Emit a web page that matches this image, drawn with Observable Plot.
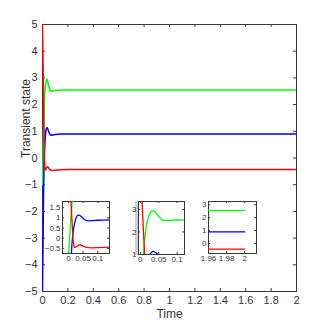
<!DOCTYPE html>
<html><head><meta charset="utf-8">
<script src="https://cdn.jsdelivr.net/npm/d3@7"></script>
<script src="https://cdn.jsdelivr.net/npm/@observablehq/plot@0.6"></script>
<style>
body{margin:0;background:#fff}
#wrap{position:relative;width:327px;height:327px;overflow:hidden;font-family:"Liberation Sans",Arial,sans-serif}
.inset{position:absolute}
#strip{position:absolute;left:135px;top:201px;width:3px;height:54px;background:#cfcfcf}
</style></head>
<body><div id="wrap"><div id="strip"></div></div>
<script>
// time samples (s)
const time  = [0, 0.004, 0.008, 0.012, 0.016, 0.020, 0.025, 0.030, 0.035, 0.040, 0.045, 0.050, 0.060, 0.070, 0.080, 0.100, 0.120, 0.140, 0.2, 0.5, 1, 1.5, 2];
const red   = [5, 3.6, 2.2, 0.9, -0.1, -0.45, -0.44, -0.38, -0.34, -0.33, -0.35, -0.39, -0.44, -0.46, -0.47, -0.46, -0.45, -0.44, -0.43, -0.43, -0.43, -0.43, -0.43];
const blue  = [-5, -3.3, -1.4, -0.3, 0.3, 0.65, 0.95, 1.10, 1.14, 1.10, 1.05, 0.97, 0.87, 0.85, 0.86, 0.88, 0.89, 0.9, 0.9, 0.9, 0.9, 0.9, 0.9];
const green = [-1, 0.0, 0.9, 1.7, 2.25, 2.55, 2.78, 2.92, 2.95, 2.88, 2.78, 2.68, 2.53, 2.50, 2.51, 2.53, 2.54, 2.55, 2.55, 2.55, 2.55, 2.55, 2.55];
const seriesNames = ["green", "blue", "red"];
const seriesColors = {green: "#00ff00", blue: "#0000ff", red: "#ff0000"};

const mainXTicks = [0, 0.2, 0.4, 0.6, 0.8, 1, 1.2, 1.4, 1.6, 1.8, 2];
const mainYTicks = [-5, -4, -3, -2, -1, 0, 1, 2, 3, 4, 5];
const in1XTicks = [0, 0.05, 0.1];
const in1YTicks = [-0.5, 0, 0.5, 1, 1.5];
const in2XTicks = [0, 0.05, 0.1];
const in2YTicks = [1, 2, 3];
const in3XTicks = [1.96, 1.98, 2];
const in3YTicks = [0, 1, 2, 3];

const valuesBy = {red, blue, green};
const rows = seriesNames.flatMap(s => time.map((t, i) => ({t, v: valuesBy[s][i], s})));

function boxPlot(o) {
  const iw = o.width - o.ml - o.mr, ih = o.height - o.mt - o.mb;
  const tl = o.tickLen, ink = "#3a3a3a";
  return Plot.plot({
    width: o.width, height: o.height,
    marginLeft: o.ml, marginRight: o.mr, marginTop: o.mt, marginBottom: o.mb,
    x: {domain: o.xDomain},
    y: {domain: o.yDomain},
    style: {fontFamily: '"Liberation Sans", Arial, sans-serif', fontSize: o.fontSize + "px", color: "#333", background: "transparent", overflow: "visible"},
    marks: [
      Plot.frame({stroke: ink, strokeWidth: 1}),
      Plot.tickX(o.xTicks, {x: d => d, insetTop: ih - tl, stroke: ink}),
      Plot.tickX(o.xTicks, {x: d => d, insetBottom: ih - tl, stroke: ink}),
      Plot.tickY(o.yTicks, {y: d => d, insetRight: iw - tl, stroke: ink}),
      Plot.tickY(o.yTicks, {y: d => d, insetLeft: iw - tl, stroke: ink}),
      Plot.axisX(o.xTicks, {tickSize: 0, tickPadding: o.padX, label: null, tickFormat: o.xFmt, fontSize: o.fontSize}),
      Plot.axisY(o.yTicks, {tickSize: 0, tickPadding: o.padY, label: null, tickFormat: o.yFmt, fontSize: o.fontSize}),
      Plot.line(rows, {x: "t", y: "v", z: "s", stroke: d => seriesColors[d.s], strokeWidth: o.lw, clip: true}),
      ...(o.extra || [])
    ]
  });
}

const wrap = document.getElementById("wrap");
const fmt = d3.format("~g");

const main = boxPlot({
  width: 327, height: 327, ml: 42, mr: 31, mt: 24, mb: 36,
  xDomain: [0, 2], yDomain: [-5, 5], xTicks: mainXTicks, yTicks: mainYTicks,
  fontSize: 11, tickLen: 3, lw: 1.5, padX: 5, padY: 5, xFmt: fmt, yFmt: fmt,
  extra: [
    Plot.text(["Transient state"], {frameAnchor: "left", dx: -16, rotate: -90, fontSize: 12, fill: "#333"}),
    Plot.text(["Time"], {frameAnchor: "bottom", dy: 26, fontSize: 12, fill: "#333"})
  ]
});
main.style.position = "absolute"; main.style.left = "0px"; main.style.top = "0px";
wrap.insertBefore(main, wrap.firstChild);

function addInset(frame, o) {
  const ml = 22, mr = 2, mt = 2, mb = 12;
  const svg = boxPlot(Object.assign({
    width: frame.w + ml + mr, height: frame.h + mt + mb, ml, mr, mt, mb,
    fontSize: 8, tickLen: 2, lw: 1.3, padX: 1.5, padY: 2, xFmt: fmt, yFmt: fmt
  }, o));
  svg.classList.add("inset");
  svg.style.left = (frame.x - ml) + "px";
  svg.style.top = (frame.y - mt) + "px";
  wrap.appendChild(svg);
}

addInset({x: 62, y: 201, w: 47, h: 52}, {xDomain: [-0.02, 0.14], yDomain: [-0.75, 1.8], xTicks: in1XTicks, yTicks: in1YTicks});
addInset({x: 138, y: 201, w: 46, h: 53}, {xDomain: [-0.005, 0.12], yDomain: [1, 3.35], xTicks: in2XTicks, yTicks: in2YTicks});
addInset({x: 208, y: 201, w: 48, h: 52}, {xDomain: [1.96, 2.013], yDomain: [-0.77, 3.25], xTicks: in3XTicks, yTicks: in3YTicks});
</script>
</body></html>
